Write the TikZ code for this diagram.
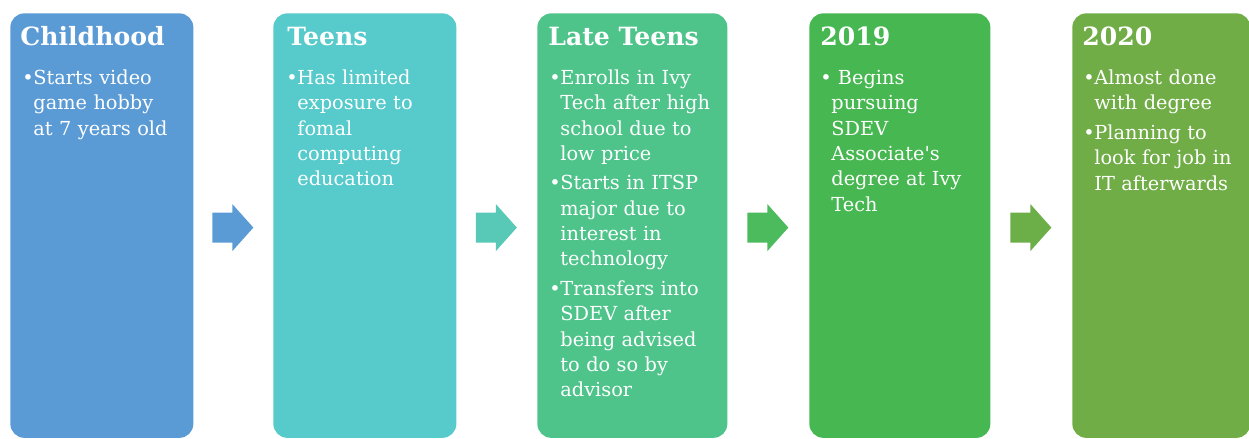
\documentclass[tikz,border=0pt]{standalone}
\usepackage{fontspec}
\setmainfont{DejaVu Serif}
\usetikzlibrary{positioning,calc}
\definecolor{boxA}{HTML}{5B9BD5}
\definecolor{boxB}{HTML}{57CACB}
\definecolor{boxC}{HTML}{4EC48B}
\definecolor{boxD}{HTML}{47B751}
\definecolor{boxE}{HTML}{70AD47}
\definecolor{arrB}{HTML}{57C9B6}
\definecolor{arrC}{HTML}{4BBB5D}
\definecolor{arrD}{HTML}{6CAE48}
\newcommand\itm[1]{\par\noindent\makebox[6.3pt][l]{\textbullet}\parbox[t]{160\dimexpr0.02cm\relax}{\raggedright\strut#1}\par}
\tikzset{
  panel/.style={rounded corners=0.28cm, inner sep=0pt, anchor=north west, minimum height=424.5*0.02cm},
  head/.style={anchor=base west, inner sep=0pt, text=white, font=\fontsize{14.3}{16}\selectfont\bfseries},
  body/.style={anchor=north west, inner sep=0pt, text=white, align=left, text width=175*0.02cm,
    font=\fontsize{11}{14.4}\selectfont\setlength{\parskip}{3.4pt}}
}
\begin{document}
\begin{tikzpicture}[x=0.02cm, y=0.02cm, line join=round]
  \useasboundingbox (0,0) rectangle (1249,439); % 1 unit = 1 px
  \node[panel, fill=boxA, minimum width=183*0.02cm] (childhood) at (10,426) {};
  \node[panel, fill=boxB, minimum width=183*0.02cm] (teens) at (273,426) {};
  \node[panel, fill=boxC, minimum width=190*0.02cm] (lateteens) at (537,426) {};
  \node[panel, fill=boxD, minimum width=181*0.02cm] (yr19) at (809,426) {};
  \node[panel, fill=boxE, minimum width=178*0.02cm] (yr20) at (1072,426) {};
  % titles
  \foreach \n/\t/\d in {childhood/Childhood/10, teens/Teens/14, lateteens/Late Teens/11, yr19/2019/11, yr20/2020/10}
    \node[head] (\n-t) at ([shift={(\d,-33)}]\n.north west) {\t};
  % bullet texts
  \node[body] (childhood-b) at ([shift={(12,-40)}]childhood.north west)
    {\itm{Starts video\\game hobby\\at 7 years old}};
  \node[body] (teens-b) at ([shift={(13,-40)}]teens.north west)
    {\itm{Has limited\\exposure to\\fomal\\computing\\education}};
  \node[body] (lateteens-b) at ([shift={(12,-40)}]lateteens.north west)
    {\itm{Enrolls in Ivy\\Tech after high\\school due to\\low price}%
     \itm{Starts in ITSP\\major due to\\interest in\\technology}%
     \itm{Transfers into\\SDEV after\\being advised\\to do so by\\advisor}};
  \node[body] (yr19-b) at ([shift={(11,-40)}]yr19.north west)
    {\itm{\ Begins\\pursuing\\SDEV\\Associate\textquotesingle s\\degree at Ivy\\Tech}};
  \node[body] (yr20-b) at ([shift={(11,-40)}]yr20.north west)
    {\itm{Almost done\\with degree}\itm{Planning to\\look for job in\\IT afterwards}};
  % block arrows between the panels
  \foreach \a/\b/\c in {childhood/teens/boxA, teens/lateteens/arrB, lateteens/yr19/arrC, yr19/yr20/arrD}
    \fill[\c] ($(\a.east)!0.5!(\b.west)+(0,-2)$) coordinate (\a-m)
      +(-21,15) -- +(-1,15) -- +(-1,23.5) -- +(20,0) -- +(-1,-23.5) -- +(-1,-15) -- +(-21,-15) -- cycle;
\end{tikzpicture}
\end{document}
